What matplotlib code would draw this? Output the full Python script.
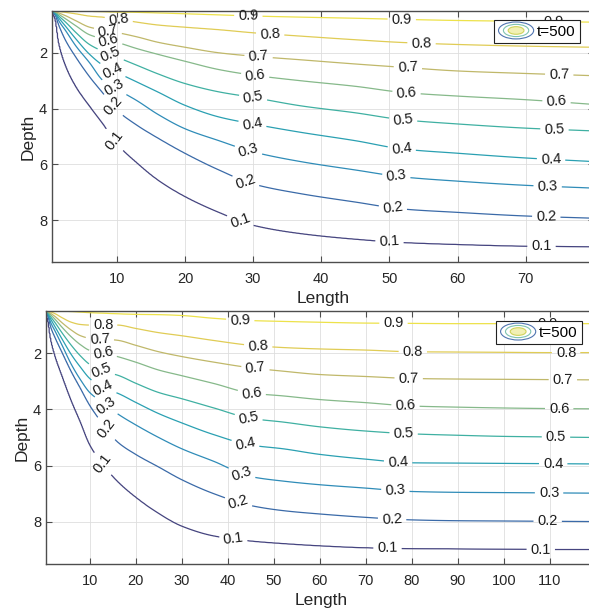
import numpy as np
import matplotlib
matplotlib.use("Agg")
import matplotlib.pyplot as plt
from matplotlib.patches import Ellipse
from matplotlib.legend_handler import HandlerBase

plt.rcParams["font.family"] = ["Liberation Sans", "DejaVu Sans"]

# ---------------------------------------------------------------------------
# Data: depth at which each concentration level is reached, along the length
# ---------------------------------------------------------------------------
levels = [0.1, 0.2, 0.3, 0.4, 0.5, 0.6, 0.7, 0.8, 0.9]
level_colors = ["#45447f", "#3a6aa8", "#2f8cb8", "#2aa0b2", "#3fb0a2",
                "#86b98a", "#c0b86a", "#e0cc55", "#ede24a"]

top_lengths = [0.5, 1, 1.5, 2.5, 4, 6, 8, 10, 13, 16, 20, 25, 30, 37, 45, 52, 60, 70, 80]
top_isodepth = [
    [0.52, 0.80, 1.63, 2.45, 3.20, 3.90, 4.55, 5.25, 5.95, 6.55, 7.15, 7.72, 8.18, 8.48, 8.68, 8.80, 8.87, 8.93, 8.95],
    [0.51, 0.66, 1.00, 1.55, 2.15, 2.85, 3.45, 4.05, 4.60, 5.05, 5.60, 6.20, 6.70, 7.05, 7.35, 7.60, 7.72, 7.85, 7.93],
    [0.505, 0.60, 0.85, 1.20, 1.75, 2.35, 3.00, 3.30, 3.72, 4.20, 4.72, 5.15, 5.55, 5.90, 6.20, 6.45, 6.60, 6.75, 6.85],
    [0.50, 0.58, 0.75, 1.05, 1.50, 2.05, 2.45, 2.70, 3.05, 3.40, 3.88, 4.30, 4.55, 4.85, 5.15, 5.45, 5.60, 5.77, 5.90],
    [0.495, 0.56, 0.68, 0.90, 1.27, 1.70, 1.95, 2.15, 2.45, 2.75, 3.10, 3.40, 3.60, 3.90, 4.15, 4.40, 4.55, 4.70, 4.80],
    [0.49, 0.54, 0.62, 0.78, 1.03, 1.35, 1.50, 1.62, 1.85, 2.05, 2.30, 2.60, 2.80, 3.00, 3.20, 3.42, 3.55, 3.68, 3.85],
    [0.48, 0.52, 0.57, 0.67, 0.85, 1.08, 1.18, 1.27, 1.43, 1.62, 1.80, 2.00, 2.12, 2.25, 2.40, 2.52, 2.65, 2.74, 2.82],
    [0.47, 0.50, 0.52, 0.55, 0.60, 0.68, 0.72, 0.78, 0.90, 1.00, 1.08, 1.17, 1.28, 1.40, 1.53, 1.63, 1.70, 1.76, 1.80],
    [0.30, 0.35, 0.38, 0.42, 0.46, 0.51, 0.53, 0.54, 0.55, 0.57, 0.60, 0.64, 0.68, 0.72, 0.76, 0.80, 0.84, 0.87, 0.90],
]

bottom_lengths = [0.5, 1, 1.5, 2.5, 4, 6, 8, 10, 13, 16, 20, 25, 30, 37, 45, 52, 60, 70, 80, 90, 100, 110, 120]
bottom_isodepth = [
    [0.52, 0.88, 1.45, 2.10, 2.80, 3.68, 4.45, 5.25, 5.98, 6.55, 7.12, 7.70, 8.15, 8.50, 8.68, 8.77, 8.85, 8.92, 8.95, 8.96, 8.97, 8.98, 8.98],
    [0.51, 0.72, 1.05, 1.45, 1.97, 2.65, 3.25, 3.85, 4.55, 5.15, 5.60, 6.05, 6.50, 7.00, 7.42, 7.60, 7.72, 7.84, 7.93, 7.96, 7.97, 7.98, 7.99],
    [0.505, 0.66, 0.90, 1.22, 1.72, 2.40, 2.95, 3.40, 3.78, 4.15, 4.55, 5.00, 5.40, 5.85, 6.39, 6.55, 6.68, 6.80, 6.92, 6.95, 6.96, 6.97, 6.98],
    [0.50, 0.62, 0.78, 1.07, 1.50, 2.05, 2.50, 2.90, 3.25, 3.42, 3.75, 4.15, 4.48, 4.90, 5.27, 5.40, 5.60, 5.77, 5.90, 5.91, 5.92, 5.93, 5.94],
    [0.495, 0.58, 0.70, 0.92, 1.28, 1.72, 2.10, 2.40, 2.66, 2.78, 3.07, 3.40, 3.62, 3.95, 4.32, 4.45, 4.62, 4.77, 4.87, 4.92, 4.96, 4.98, 5.00],
    [0.49, 0.55, 0.63, 0.80, 1.08, 1.42, 1.70, 1.90, 2.00, 2.12, 2.32, 2.60, 2.80, 3.08, 3.42, 3.52, 3.65, 3.76, 3.88, 3.92, 3.95, 3.97, 3.98],
    [0.48, 0.52, 0.58, 0.70, 0.92, 1.18, 1.38, 1.47, 1.50, 1.54, 1.72, 1.95, 2.12, 2.32, 2.52, 2.64, 2.76, 2.83, 2.90, 2.92, 2.93, 2.94, 2.95],
    [0.47, 0.50, 0.53, 0.60, 0.74, 0.90, 0.98, 1.00, 1.00, 1.00, 1.12, 1.27, 1.38, 1.55, 1.72, 1.80, 1.85, 1.89, 1.95, 1.96, 1.97, 1.98, 1.98],
    [0.30, 0.35, 0.40, 0.45, 0.50, 0.52, 0.54, 0.56, 0.58, 0.60, 0.62, 0.63, 0.66, 0.76, 0.84, 0.87, 0.90, 0.93, 0.94, 0.95, 0.95, 0.95, 0.95],
]

# lengths at which each level carries a value label
top_label_lengths = [
    [9.6, 28.1, 50.0, 72.3],
    [9.4, 28.9, 50.5, 73.0],
    [9.6, 29.3, 51.0, 73.2],
    [9.4, 29.9, 51.8, 73.7],
    [9.1, 30.0, 52.0, 74.2],
    [8.8, 30.3, 52.5, 74.5],
    [8.7, 30.8, 52.7, 74.9],
    [10.3, 32.5, 54.7],
    [29.3, 51.8, 74.0],
]
bottom_label_lengths = [
    [12.8, 41.2, 74.7, 108.0],
    [13.6, 42.3, 75.7, 109.5],
    [13.6, 43.0, 76.4, 109.8],
    [12.9, 43.8, 77.0, 110.7],
    [12.5, 44.5, 78.2, 111.3],
    [12.9, 45.2, 78.6, 112.0],
    [12.2, 46.0, 79.3, 112.8],
    [12.9, 46.6, 80.2, 113.5],
    [42.7, 76.0, 109.5],
]

legend_label = "t=500"


def pchip(xk, yk, xq):
    """Monotone piecewise-cubic Hermite interpolation (Fritsch-Carlson)."""
    xk = np.asarray(xk, float)
    yk = np.asarray(yk, float)
    xq = np.atleast_1d(np.asarray(xq, float))
    h = np.diff(xk)
    delta = np.diff(yk) / h
    d = np.zeros_like(yk)
    d[0], d[-1] = delta[0], delta[-1]
    for k in range(1, len(xk) - 1):
        if delta[k - 1] * delta[k] > 0:
            w1 = 2 * h[k] + h[k - 1]
            w2 = h[k] + 2 * h[k - 1]
            d[k] = (w1 + w2) / (w1 / delta[k - 1] + w2 / delta[k])
    i = np.clip(np.searchsorted(xk, xq) - 1, 0, len(xk) - 2)
    t = (xq - xk[i]) / h[i]
    h00 = 2 * t**3 - 3 * t**2 + 1
    h10 = t**3 - 2 * t**2 + t
    h01 = -2 * t**3 + 3 * t**2
    h11 = t**3 - t**2
    return h00 * yk[i] + h10 * h[i] * d[i] + h01 * yk[i + 1] + h11 * h[i] * d[i + 1]


def build_field(lengths, isodepth):
    xs = np.linspace(lengths[0], lengths[-1], 700)
    ds = np.linspace(0.5, 9.5, 500)
    curves = np.array([pchip(lengths, row, xs) for row in isodepth])
    shallow_first = curves[::-1] + 1e-4 * np.arange(len(levels))[:, None]
    shallow_first = np.maximum.accumulate(shallow_first, axis=0)
    vals = np.concatenate([[1.0], levels[::-1], [0.0]])
    Z = np.empty((ds.size, xs.size))
    for j in range(xs.size):
        dp = np.concatenate([[0.0], shallow_first[:, j], [12.0]])
        Z[:, j] = np.interp(ds, dp, vals)
    return xs, ds, Z


class ContourSwatch:
    pass


class ContourSwatchHandler(HandlerBase):
    def create_artists(self, legend, orig_handle, xdescent, ydescent,
                       width, height, fontsize, trans):
        cx = 0.5 * width - xdescent
        cy = 0.5 * height - ydescent
        rings = [(1.0, "#4f74b0", "none"), (0.72, "#7fc3b0", "none"),
                 (0.45, "#cfd35a", "#f2f0b4")]
        artists = []
        for frac, ec, fc in rings:
            e = Ellipse((cx, cy), width * frac, height * 1.45 * frac,
                        edgecolor=ec, facecolor=fc, linewidth=0.8)
            e.set_transform(trans)
            artists.append(e)
        return artists


TXT = "#262626"


def draw_panel(ax, lengths, isodepth, label_lengths, xmax, xticks, legend_anchor):
    xs, ds, Z = build_field(lengths, isodepth)
    cs = ax.contour(xs, ds, Z, levels=levels, colors=level_colors,
                    linewidths=0.9, zorder=2)
    positions = []
    for k, lx in enumerate(label_lengths):
        ys = pchip(lengths, isodepth[k], lx)
        positions.extend(zip(lx, ys))
    texts = ax.clabel(cs, manual=positions, inline=True, inline_spacing=4,
                      fmt="%g", fontsize=10.5, colors="#1a1a1a")
    for t in texts:
        t.set_clip_on(False)

    ax.set_xlim(0.5, xmax)
    ax.set_ylim(9.5, 0.5)
    ax.set_xticks(xticks)
    ax.set_yticks([2, 4, 6, 8])
    ax.grid(True, color="#dedede", linewidth=0.6)
    ax.set_axisbelow(True)
    ax.tick_params(direction="in", length=4, width=0.8, top=True, right=True,
                   labelsize=10.5, color="#4d4d4d", labelcolor=TXT)
    ax.tick_params(axis="x", pad=7.5)
    ax.tick_params(axis="y", pad=3.5)
    for s in ax.spines.values():
        s.set_color("#4d4d4d")
        s.set_linewidth(1.0)

    ax.set_xlabel("Length", fontsize=12.5, color=TXT)
    ax.xaxis.set_label_coords(0.5, -0.115)
    ax.set_ylabel("Depth", fontsize=12.5, color=TXT)
    ax.yaxis.set_label_coords(-0.03, 0.5)

    swatch = ContourSwatch()
    leg = ax.legend([swatch], [legend_label], loc="upper right",
                    bbox_to_anchor=legend_anchor, borderaxespad=0,
                    handler_map={ContourSwatch: ContourSwatchHandler()},
                    fontsize=11, frameon=True, fancybox=False, framealpha=1,
                    edgecolor="#222222", borderpad=0.3, handlelength=2.3,
                    handleheight=0.8, handletextpad=0.2)
    leg.get_frame().set_linewidth(0.8)
    leg.set_zorder(10)


W, H = 589, 615
fig = plt.figure(figsize=(W / 100, H / 100), dpi=100)

ax_top = fig.add_axes([52 / W, (H - 262) / H, 542 / W, 251 / H])
draw_panel(ax_top, top_lengths, top_isodepth, top_label_lengths,
           80, [10, 20, 30, 40, 50, 60, 70], (0.974, 0.964))

ax_bot = fig.add_axes([46 / W, (H - 564) / H, 550 / W, 253 / H])
draw_panel(ax_bot, bottom_lengths, bottom_isodepth, bottom_label_lengths,
           120, [10, 20, 30, 40, 50, 60, 70, 80, 90, 100, 110], (0.9745, 0.960))

fig.savefig("out.png", dpi=100)
